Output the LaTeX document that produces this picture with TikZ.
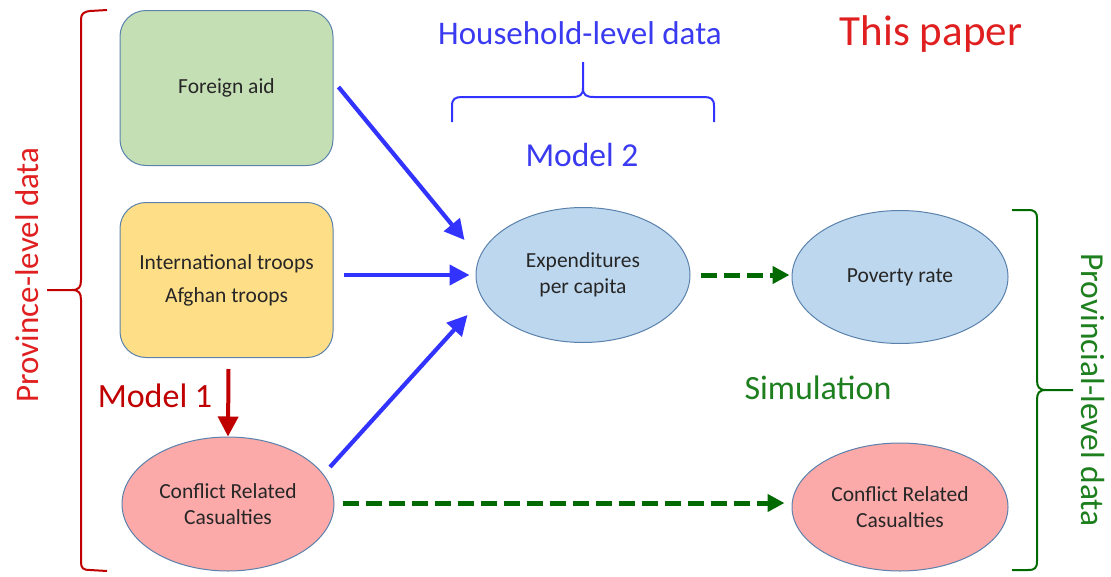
\documentclass[tikz,border=0pt]{standalone}
\usepackage{fontspec}
\setmainfont{Carlito}
\usetikzlibrary{arrows.meta,calc,shapes.geometric}
\definecolor{boxborder}{HTML}{5A82AC}
\definecolor{aidfill}{HTML}{C5DFB4}
\definecolor{troopfill}{HTML}{FFDE88}
\definecolor{ellblue}{HTML}{BDD7EE}
\definecolor{ellpink}{HTML}{FBA9A9}
\definecolor{arrblue}{HTML}{3333FF}
\definecolor{txtblue}{HTML}{3A3AF0}
\definecolor{darkred}{HTML}{C00000}
\definecolor{txtred}{HTML}{E02020}
\definecolor{dgreen}{HTML}{006A00}
\definecolor{txtgreen}{HTML}{1E7F1E}
\tikzset{
  rbox/.style={draw=boxborder, line width=1pt, rounded corners=26pt, minimum width=213pt, minimum height=155pt, align=center, font=\fontsize{21.5}{33}\selectfont, text=black!85},
  ell/.style={ellipse, draw=boxborder, line width=1pt, inner sep=0pt, align=center, font=\fontsize{21.5}{26}\selectfont, text=black!85},
  bluearr/.style={draw=arrblue, line width=4.2pt, -{Triangle[length=20pt,width=20pt]}},
  redarr/.style={draw=darkred, line width=4pt, -{Triangle[length=20pt,width=20pt]}},
  greenarr/.style={draw=dgreen, line width=5pt, dash pattern=on 16pt off 7pt, -{Triangle[length=17pt,width=17pt]}},
  bigtxt/.style={font=\fontsize{34}{38}\selectfont, inner sep=0pt},
}
\begin{document}
\begin{tikzpicture}[x=1pt,y=-1pt]
\useasboundingbox (0,0) rectangle (1111,576);
% boxes
\node[rbox, fill=aidfill] (fa) at (226.5,88) {Foreign aid};
\node[rbox, fill=troopfill] (troops) at (226.5,280) {International troops\\Afghan troops};
% ellipses
\node[ell, fill=ellblue, minimum width=214pt, minimum height=135pt] (exp) at (583,275) {Expenditures\\per capita};
\node[ell, fill=ellblue, minimum width=216pt, minimum height=133pt] (pov) at (900,277) {Poverty rate};
\node[ell, fill=ellpink, minimum width=212pt, minimum height=134pt] (ccl) at (228,504) {Conflict Related\\Casualties};
\node[ell, fill=ellpink, minimum width=216pt, minimum height=128pt] (ccr) at (900,507) {Conflict Related\\Casualties};
% arrows
\draw[bluearr] ($(fa.east)+(5,-1)$) -- ($(exp.west)+(-11,-35)$);
\draw[bluearr] ($(troops.east |- exp.west)+(10,0)$) -- ($(exp.west)+(-6,0)$);
\draw[bluearr] ($(ccl.center)+(102,-37)$) -- ($(exp.west)+(-8,40)$);
\draw[redarr] ($(troops.south)+(2,11)$) -- (ccl.north);
\draw[greenarr] ($(exp.east)+(10,0)$) -- ($(pov.west)+(-2,-2)$);
\draw[greenarr] ($(ccl.east)+(8,-1)$) -- ($(ccr.west)+(-7,-4)$);
% labels
\node[bigtxt, text=txtblue, font=\fontsize{33}{36}\selectfont] (hh) at (580,33) {Household-level data};
\node[bigtxt, text=txtred, font=\fontsize{43}{46}\selectfont] (tp) at (931,34) {This paper};
\node[bigtxt, text=txtblue, font=\fontsize{33.5}{36}\selectfont] (m2) at (582,155) {Model 2};
\node[bigtxt, text=txtgreen] (sim) at (818,388) {Simulation};
\node[bigtxt, text=darkred] (m1) at (155,396) {Model 1};
\node[bigtxt, text=txtred, rotate=90, font=\fontsize{33}{36}\selectfont] (pld) at (27,275) {Province-level data};
\node[bigtxt, text=txtgreen, rotate=-90, font=\fontsize{33.5}{36}\selectfont] (prld) at (1093,390) {Provincial-level data};
% braces
\draw[darkred, line width=2pt] (107,10) -- (90,11) .. controls (83,12) and (81,14) .. (81,20) -- (81,280)
  .. controls (81,287) and (79,290) .. (72,290) -- (47,290);
\draw[darkred, line width=2pt] (72,290) .. controls (79,290) and (81,293) .. (81,300) -- (81,562)
  .. controls (81,568) and (83,570) .. (90,570) -- (107,571);
\draw[arrblue, line width=2pt] (452,122) -- (452,106) .. controls (452,99) and (455,97) .. (462,97) -- (572,97)
  .. controls (580,97) and (583,95) .. (583,88) -- (583,62);
\draw[arrblue, line width=2pt] (583,88) .. controls (583,95) and (586,97) .. (594,97) -- (704,97)
  .. controls (711,97) and (714,99) .. (714,106) -- (714,122);
\draw[dgreen, line width=2pt] (1012,210) -- (1028,210) .. controls (1035,210) and (1037,212) .. (1037,219) -- (1037,380)
  .. controls (1037,387) and (1039,390) .. (1046,390) -- (1073,390);
\draw[dgreen, line width=2pt] (1046,390) .. controls (1039,390) and (1037,393) .. (1037,400) -- (1037,561)
  .. controls (1037,568) and (1035,570) .. (1028,570) -- (1012,570);
\end{tikzpicture}
\end{document}
